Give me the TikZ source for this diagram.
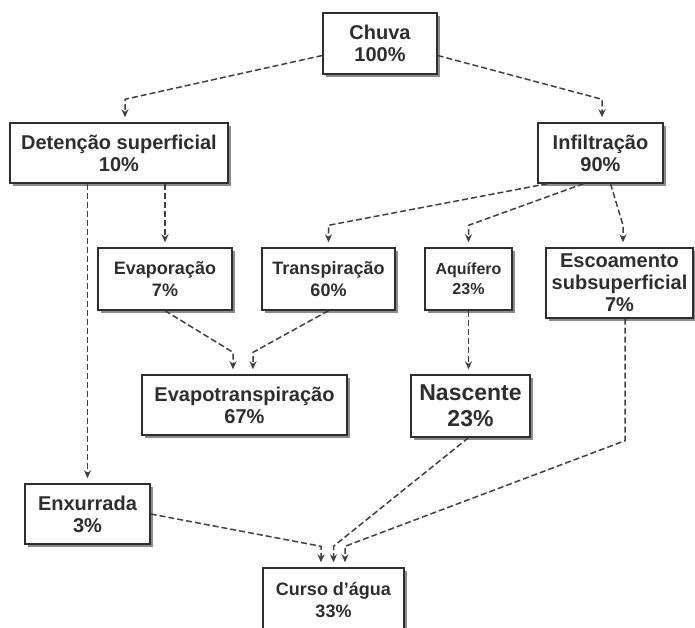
\documentclass[tikz,border=0pt]{standalone}
\usepackage{fontspec}
\setmainfont{Liberation Sans}
\usetikzlibrary{arrows.meta,shadows,calc}
\definecolor{ink}{HTML}{2E2E2E}
\definecolor{line}{HTML}{404040}
\definecolor{shade}{HTML}{8C8C8C}
\tikzset{
  box/.style={draw=ink, line width=1.4pt, fill=white, text=ink, align=center,
    inner sep=0pt, font=\bfseries\fontsize{20}{22}\selectfont,
    drop shadow={shadow xshift=3pt, shadow yshift=-3pt, fill=shade, opacity=1}},
  small/.style={font=\bfseries\fontsize{18}{22}\selectfont},
  tiny/.style={font=\bfseries\fontsize{16}{20}\selectfont},
  big/.style={font=\bfseries\fontsize{23}{26}\selectfont},
  flow/.style={draw=line, line width=1.5pt, dash pattern=on 6pt off 3pt,
    -{Stealth[length=8pt,width=7pt]}, shorten >=5pt}
}
\begin{document}
\begin{tikzpicture}[x=1pt,y=1pt]
\useasboundingbox (0,0) rectangle (695,628);
\clip (0,0) rectangle (695,628);
\node[box, minimum width=114pt, minimum height=61pt] (chuva) at (380,584.5) {Chuva\\100\%};
\node[box, minimum width=218pt, minimum height=60pt] (det) at (119,475) {Detenção superficial\\10\%};
\node[box, minimum width=125pt, minimum height=60pt] (inf) at (600.5,475) {Infiltração\\90\%};
\node[box, small, minimum width=134pt, minimum height=62pt] (evap) at (165,349) {Evaporação\\7\%};
\node[box, small, minimum width=133pt, minimum height=62pt] (trans) at (328.5,349) {Transpiração\\60\%};
\node[box, tiny, minimum width=87pt, minimum height=62pt] (aqui) at (468.5,349) {Aquífero\\23\%};
\node[box, minimum width=147pt, minimum height=70pt] (esc) at (619.5,345) {Escoamento\\subsuperficial\\7\%};
\node[box, minimum width=205pt, minimum height=60pt] (evt) at (244.5,223) {Evapotranspiração\\67\%};
\node[box, big, minimum width=119pt, minimum height=62pt] (nasc) at (470.5,222) {Nascente\\23\%};
\node[box, minimum width=125pt, minimum height=60pt] (enx) at (87.5,114) {Enxurrada\\3\%};
\node[box, small, minimum width=141pt, minimum height=64pt] (curso) at (333.5,28) {Curso d’água\\33\%};

\draw[flow] ($(chuva.west)+(0,-12)$) -- ($(det.north)+(6,23)$) -- ($(det.north)+(6,0)$);
\draw[flow] ($(chuva.east)+(0,-12)$) -- ($(inf.north)+(1.5,23)$) -- ($(inf.north)+(1.5,0)$);
\draw[flow] (enx.north |- det.south) -- (enx.north);
\draw[flow] (evap.north |- det.south) -- (evap.north);
\draw[flow] ($(inf.south)+(-53,0)$) -- ($(trans.north)+(0,22)$) -- (trans.north);
\draw[flow] ($(inf.south)+(-17,0)$) -- ($(aqui.north)+(0,22)$) -- (aqui.north);
\draw[flow] ($(inf.south)+(10,0)$) -- ($(esc.north)+(3.5,22)$) -- ($(esc.north)+(3.5,0)$);
\draw[flow] (evap.south) -- ($(evt.north)+(-11.5,22)$) -- ($(evt.north)+(-11.5,0)$);
\draw[flow] (trans.south) -- ($(evt.north)+(8.5,22)$) -- ($(evt.north)+(8.5,0)$);
\draw[flow] (aqui.south) -- (aqui.south |- nasc.north);
\draw[flow] (enx.east) -- ($(curso.north)+(-12.5,21)$) -- ($(curso.north)+(-12.5,0)$);
\draw[flow] ($(nasc.south)+(-2,0)$) -- ($(curso.north)+(0,21)$) -- (curso.north);
\draw[flow] ($(esc.south)+(5.5,0)$) -- ($(esc.south)+(5.5,-122)$) -- ($(curso.north)+(11.5,21)$) -- ($(curso.north)+(11.5,0)$);
\end{tikzpicture}
\end{document}
